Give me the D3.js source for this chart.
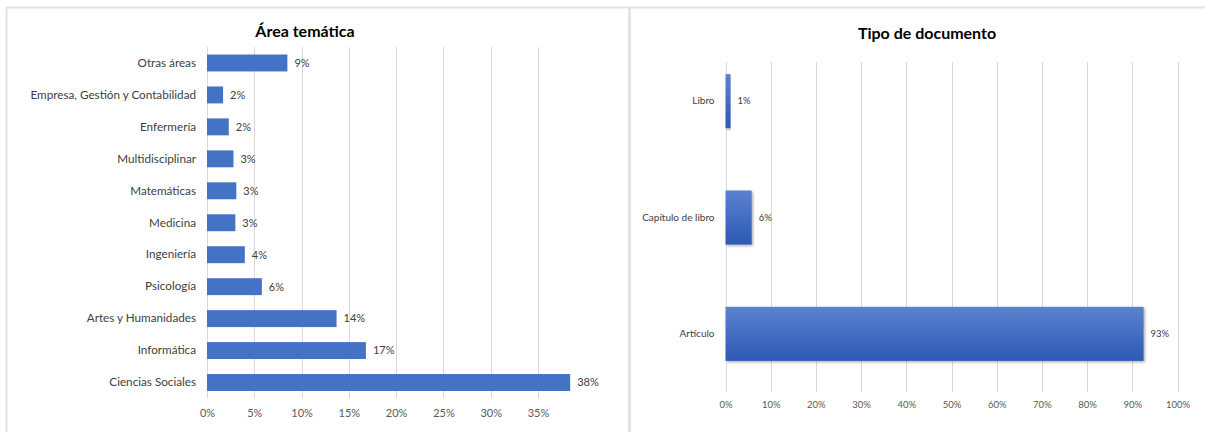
<!DOCTYPE html>
<html>
<head>
<meta charset="utf-8">
<script src="https://cdn.jsdelivr.net/npm/d3@7"></script>
<style>
  html, body { margin: 0; padding: 0; background: #fff; }
  svg { display: block; font-family: Lato, "Open Sans", sans-serif; }
</style>
</head>
<body>
<svg id="chart" width="1205" height="432"></svg>
<script>
// ---- Data ----
const areaCategories = ["Otras áreas", "Empresa, Gestión y Contabilidad", "Enfermería", "Multidisciplinar",
  "Matemáticas", "Medicina", "Ingeniería", "Psicología", "Artes y Humanidades", "Informática", "Ciencias Sociales"];
const areaValues = [0.085, 0.017, 0.023, 0.028, 0.031, 0.030, 0.040, 0.058, 0.137, 0.168, 0.384];
const areaTicks = [0, 0.05, 0.10, 0.15, 0.20, 0.25, 0.30, 0.35];

const docCategories = ["Libro", "Capítulo de libro", "Artículo"];
const docValues = [0.011, 0.058, 0.925];
const docTicks = [0, 0.1, 0.2, 0.3, 0.4, 0.5, 0.6, 0.7, 0.8, 0.9, 1.0];

const titles = ["Área temática", "Tipo de documento"];

// ---- Drawing ----
const svg = d3.select("#chart");
const pct = d3.format(".0%");

// panel frames
svg.append("line").attr("x1", 6).attr("x2", 1205).attr("y1", 7.5).attr("y2", 7.5)
  .attr("stroke", "#e3e3e3").attr("stroke-width", 2);
svg.append("line").attr("x1", 6.5).attr("x2", 6.5).attr("y1", 7).attr("y2", 432)
  .attr("stroke", "#e3e3e3").attr("stroke-width", 2);
svg.append("line").attr("x1", 629.5).attr("x2", 629.5).attr("y1", 7).attr("y2", 432)
  .attr("stroke", "#e3e3e3").attr("stroke-width", 3);

// gradient for right chart bars
const defs = svg.append("defs");
const grad = defs.append("linearGradient").attr("id", "barGrad")
  .attr("x1", 0).attr("x2", 0).attr("y1", 0).attr("y2", 1);
grad.append("stop").attr("offset", "0%").attr("stop-color", "#5b82cf");
grad.append("stop").attr("offset", "100%").attr("stop-color", "#2c59b5");
const filt = defs.append("filter").attr("id", "shadow").attr("x", "-5%").attr("y", "-10%")
  .attr("width", "115%").attr("height", "130%");
filt.append("feDropShadow").attr("dx", 1.5).attr("dy", 1.5).attr("stdDeviation", 1.2)
  .attr("flood-color", "#000").attr("flood-opacity", 0.3);

function drawChart(opt) {
  const g = svg.append("g");
  const x = d3.scaleLinear().domain(opt.domain).range([opt.x0, opt.x1]);
  const y = d3.scaleBand().domain(opt.categories).range([opt.yTop, opt.yBot]).paddingInner(opt.pad).paddingOuter(opt.pad / 2);

  // title
  g.append("text").attr("x", opt.titleX).attr("y", opt.titleY)
    .attr("text-anchor", "middle").attr("font-weight", "bold").attr("font-size", opt.titleSize)
    .attr("fill", "#000").text(opt.title);

  // gridlines
  g.append("g").selectAll("line").data(opt.ticks).join("line")
    .attr("x1", d => Math.round(x(d)) + 0.5).attr("x2", d => Math.round(x(d)) + 0.5)
    .attr("y1", opt.gridTop).attr("y2", opt.gridBot)
    .attr("stroke", "#d9d9d9").attr("stroke-width", 1);

  // x axis tick labels
  const ax = g.append("g").attr("transform", `translate(0,${opt.axisY})`)
    .call(d3.axisBottom(x).tickValues(opt.ticks).tickFormat(pct).tickSize(0).tickPadding(0));
  ax.select(".domain").remove();
  ax.selectAll("text").attr("font-size", opt.tickSize).attr("fill", "#595959")
    .attr("font-family", "Lato, sans-serif").attr("dy", "0.35em");

  // y axis labels
  const ay = g.append("g").attr("transform", `translate(${opt.x0 - opt.labelGap},0)`)
    .call(d3.axisLeft(y).tickSize(0).tickPadding(0));
  ay.select(".domain").remove();
  ay.selectAll("text").attr("font-size", opt.catSize).attr("fill", "#404040")
    .attr("font-family", "Lato, sans-serif");

  // bars
  g.append("g").selectAll("rect").data(opt.values).join("rect")
    .attr("x", x(0)).attr("y", (d, i) => y(opt.categories[i]))
    .attr("width", d => x(d) - x(0)).attr("height", y.bandwidth())
    .attr("fill", opt.fill).attr("filter", opt.filter || null);

  // value labels
  g.append("g").selectAll("text").data(opt.values).join("text")
    .attr("x", d => x(d) + opt.valGap).attr("y", (d, i) => y(opt.categories[i]) + y.bandwidth() / 2)
    .attr("dy", "0.35em").attr("font-size", opt.valSize).attr("fill", "#404040")
    .text(d => pct(d));
}

drawChart({
  title: titles[0], titleX: 305, titleY: 37, titleSize: 16,
  categories: areaCategories, values: areaValues, ticks: areaTicks,
  domain: [0, 0.35], x0: 207, x1: 538,
  yTop: 47, yBot: 398.5, pad: 0.47,
  gridTop: 47, gridBot: 398, axisY: 413,
  labelGap: 11, catSize: 11.7, tickSize: 11, valSize: 11, valGap: 7,
  fill: "#4472c4"
});

drawChart({
  title: titles[1], titleX: 927, titleY: 39, titleSize: 16,
  categories: docCategories, values: docValues, ticks: docTicks,
  domain: [0, 1], x0: 725.5, x1: 1177.5,
  yTop: 43, yBot: 392, pad: 0.535,
  gridTop: 62, gridBot: 392, axisY: 405,
  labelGap: 11, catSize: 10, tickSize: 9.5, valSize: 9.5, valGap: 7,
  fill: "url(#barGrad)", filter: "url(#shadow)"
});
</script>
</body>
</html>
